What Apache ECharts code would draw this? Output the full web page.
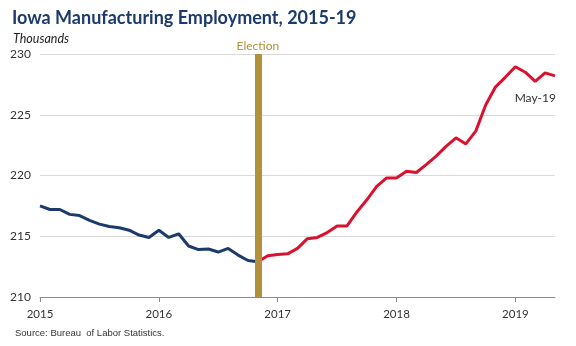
<!DOCTYPE html>
<html>
<head>
<meta charset="utf-8">
<script src="https://cdn.jsdelivr.net/npm/echarts@6/dist/echarts.min.js"></script>
<style>
  html, body { margin: 0; padding: 0; background: #fff; }
  #chart { width: 576px; height: 346px; }
</style>
</head>
<body>
<div id="chart"></div>
<script>
// Monthly Iowa manufacturing employment (thousands), Jan 2015 - May 2019
const months = [];
const monthNames = ['Jan','Feb','Mar','Apr','May','Jun','Jul','Aug','Sep','Oct','Nov','Dec'];
for (let y = 2015; y <= 2019; y++) {
  for (let m = 0; m < 12; m++) {
    if (y === 2019 && m > 4) break;
    months.push(monthNames[m] + '-' + String(y).slice(2));
  }
}

// Jan 2015 - Nov 2016
const beforeElection = [
  217.5, 217.2, 217.2, 216.8, 216.7, 216.3, 216.0, 215.8, 215.7, 215.5, 215.1, 214.9,
  215.5, 214.9, 215.2, 214.2, 213.9, 213.95, 213.7, 214.0, 213.45, 213.0, 212.9
];
// Nov 2016 - May 2019
const afterElection = [
  212.9, 213.4, 213.5, 213.55, 214.0, 214.8, 214.9, 215.3, 215.85, 215.85, 217.0, 218.0,
  219.1, 219.8, 219.8, 220.35, 220.25, 220.9, 221.6, 222.4, 223.1, 222.6, 223.65, 225.8,
  227.3, 228.1, 228.95, 228.5, 227.75, 228.45, 228.2
];

const yearTicks = ['2015', '2016', '2017', '2018', '2019'];
const electionMonth = 'Nov-16';
const latestLabel = 'May-19';

const electionIndex = months.indexOf(electionMonth);
const blueData = months.map((m, i) => i < beforeElection.length ? beforeElection[i] : null);
const redData = months.map((m, i) => {
  const k = i - electionIndex;
  return k >= 0 ? afterElection[k] : null;
});
const last = months.length - 1;

const chart = echarts.init(document.getElementById('chart'), null, { renderer: 'canvas' });
chart.setOption({
  animation: false,
  backgroundColor: '#fff',
  textStyle: { fontFamily: 'Lato' },
  title: [
    {
      text: 'Iowa Manufacturing Employment, 2015-19',
      left: 7, top: 4,
      textStyle: { fontFamily: 'Lato', fontWeight: 'bold', fontSize: 18, color: '#1c3a6b' }
    },
    {
      text: 'Thousands',
      left: 8, top: 27,
      textStyle: { fontFamily: 'Lato', fontStyle: 'italic', fontWeight: 'normal', fontSize: 12.5, color: '#222' }
    },
    {
      text: 'Source: Bureau  of Labor Statistics.',
      left: 10, top: 323,
      textStyle: { fontFamily: 'Liberation Sans', fontWeight: 'normal', fontSize: 9.5, color: '#333' }
    }
  ],
  grid: { left: 40, right: 21, top: 54, bottom: 49, containLabel: false },
  xAxis: {
    type: 'category',
    data: months,
    boundaryGap: false,
    axisLine: { lineStyle: { color: '#8c8c8c', width: 1 } },
    axisTick: { show: true, interval: (i) => i % 12 === 0, length: 5, lineStyle: { color: '#8c8c8c' } },
    axisLabel: {
      interval: (i) => i % 12 === 0,
      formatter: (v, i) => yearTicks[Math.floor(i / 12)],
      color: '#333', fontSize: 11.5, margin: 11, fontFamily: 'Lato'
    },
    splitLine: { show: false }
  },
  yAxis: {
    type: 'value',
    min: 210, max: 230, interval: 5,
    axisLine: { show: false },
    axisTick: { show: false },
    axisLabel: { color: '#333', fontSize: 12, align: 'left', margin: 30, fontFamily: 'Lato' },
    splitLine: { lineStyle: { color: '#d9d9d9', width: 1 } }
  },
  series: [
    {
      name: 'Before',
      type: 'line',
      data: blueData,
      symbol: 'none',
      lineStyle: { color: '#1c3a6b', width: 3 },
      z: 3
    },
    {
      name: 'After',
      type: 'line',
      data: redData,
      symbol: 'none',
      lineStyle: { color: '#d9122f', width: 3 },
      z: 3,
      markPoint: {
        silent: true,
        symbol: 'circle',
        symbolSize: 0,
        label: {
          show: true, formatter: latestLabel, position: 'bottom', align: 'right',
          distance: 16, offset: [1, 0], color: '#333', fontSize: 12, fontFamily: 'Lato'
        },
        data: [{ coord: [months[last], afterElection[afterElection.length - 1]] }]
      },
      markLine: {
        silent: true,
        symbol: 'none',
        z: 5,
        lineStyle: { color: '#b3913a', width: 7, type: 'solid' },
        label: {
          show: true, position: 'end', formatter: 'Election',
          color: '#b3913a', fontSize: 12, distance: 2, fontFamily: 'Lato'
        },
        data: [{ xAxis: electionMonth }]
      }
    }
  ]
});
</script>
</body>
</html>
